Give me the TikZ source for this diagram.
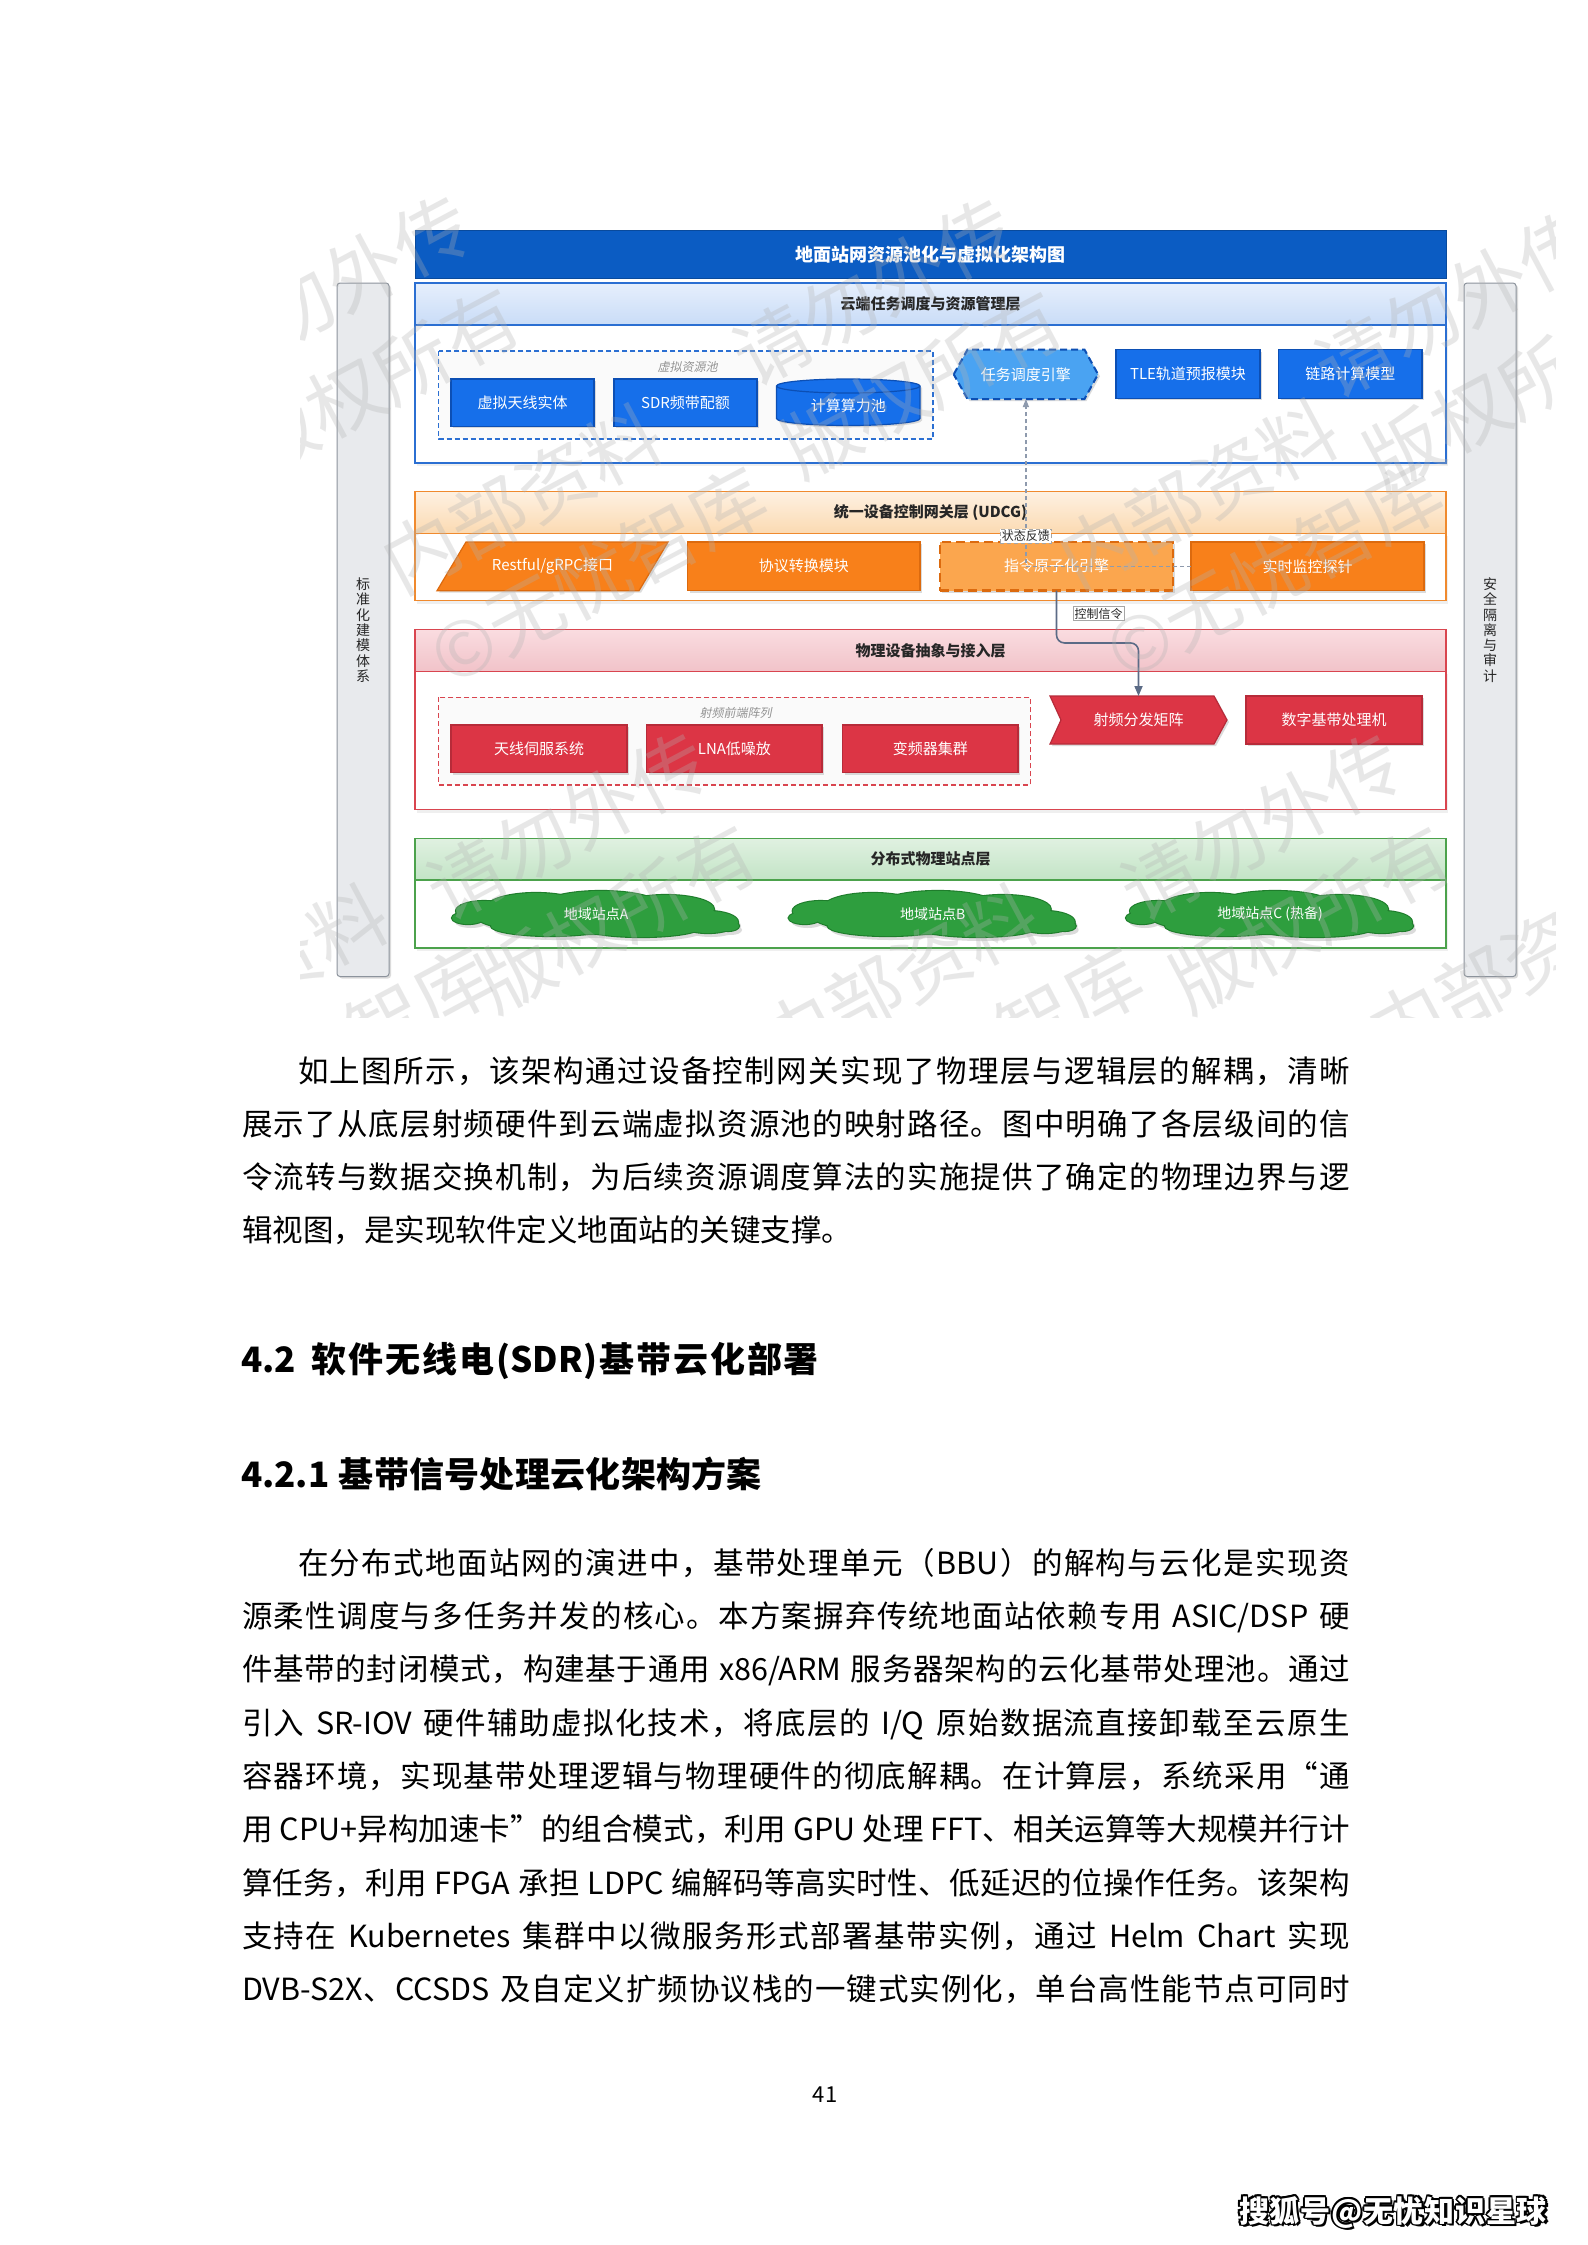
\documentclass[tikz,border=0pt]{standalone}
\usepackage{fontspec}
\setmainfont{Noto Sans CJK SC}
\newfontfamily\cjkit{Noto Sans CJK SC}[FakeSlant=0.2]
\usetikzlibrary{shapes.geometric,shadows,arrows.meta,calc}
\XeTeXinterchartokenstate=1
\newcount\mycc
\def\setclassrange#1#2{\mycc=#1\relax\loop\XeTeXcharclass\mycc=1\relax\advance\mycc by 1\relax\ifnum\mycc<#2\relax\repeat}
\setclassrange{"3000}{"3040}
\setclassrange{"4E00}{"A000}
\setclassrange{"FF00}{"FFF0}
\XeTeXcharclass"201C=1 \XeTeXcharclass"201D=1
\XeTeXinterchartoks 1 1 = {\hskip 0pt plus 1pt\relax}
\XeTeXinterchartoks 0 1 = {\hskip 0pt plus 1pt\relax}
\XeTeXinterchartoks 1 0 = {\hskip 0pt plus 1pt\relax}
\newcommand\fs[1]{\fontsize{#1}{#1}\selectfont}
\definecolor{tblue}{HTML}{0B5CC3}
\definecolor{l1line}{HTML}{2B6FD2}
\definecolor{l1top}{HTML}{E6EFFC}
\definecolor{l1bot}{HTML}{C9DCF7}
\definecolor{bfill}{HTML}{166FEA}
\definecolor{bline}{HTML}{0C4FB4}
\definecolor{hexfill}{HTML}{4AA3F2}
\definecolor{l2line}{HTML}{F08A2E}
\definecolor{l2top}{HTML}{FEF1E2}
\definecolor{l2bot}{HTML}{FBDAB2}
\definecolor{ofill}{HTML}{F8801A}
\definecolor{oline}{HTML}{DC6A0E}
\definecolor{ifill}{HTML}{FBA64E}
\definecolor{l3line}{HTML}{D9454F}
\definecolor{l3top}{HTML}{FADCE0}
\definecolor{l3bot}{HTML}{F1C3C9}
\definecolor{rfill}{HTML}{DC3545}
\definecolor{rline}{HTML}{B72B39}
\definecolor{l4line}{HTML}{4CA24C}
\definecolor{l4top}{HTML}{E0F1E1}
\definecolor{l4bot}{HTML}{C3E4C6}
\definecolor{gfill}{HTML}{2E9E3E}
\definecolor{gline}{HTML}{1F7D2C}
\definecolor{sbfill}{HTML}{E8EAED}
\definecolor{sbline}{HTML}{8C939C}
\definecolor{ctrlc}{HTML}{5B6B86}
\definecolor{fbc}{HTML}{8E9AAD}
\tikzset{
  shad/.style={drop shadow={opacity=0.28,shadow xshift=2pt,shadow yshift=-2pt}},
  wtext/.style={text=white,font=\fs{15}},
  bluebox/.style={shad,fill=bfill,draw=bline,line width=1.2pt,wtext},
  orangebox/.style={shad,fill=ofill,draw=oline,line width=1.2pt,wtext},
  redbox/.style={shad,fill=rfill,draw=rline,line width=1.2pt,wtext},
  sidebar/.style={shad,fill=sbfill,draw=sbline,line width=1pt,rounded corners=3pt},
  sidetext/.style={align=center,font=\fontsize{14}{15.3}\selectfont,text=black!85},
  grplabel/.style={font=\cjkit\fs{12},text=gray!85},
  lbl/.style={fill=white,draw=gray!70,line width=0.6pt,font=\fs{12},inner sep=1.5pt,text=black!85},
  fbline/.style={draw=fbc,line width=1.3pt,dash pattern=on 4pt off 3pt,-{Triangle[length=8pt,width=6pt]}},
  ctrlline/.style={draw=ctrlc,line width=1.6pt,-{Triangle[length=10pt,width=8pt]}},
  wm/.style={rotate=28,align=left,font=\fontsize{76}{104}\selectfont,text=gray!60,text opacity=0.3},
  bodytext/.style={anchor=base west,font=\fs{30.5},text=black}
}
\newcommand\layer[8]{%
  \path[top color=#6,bottom color=#7,draw=#5,line width=1.4pt] (415,#2) rectangle (1446,#3);
  \path[drop shadow={opacity=0.12,shadow xshift=2pt,shadow yshift=-3pt},fill=white,draw=#5,line width=1.4pt] (415,#3) rectangle (1446,#4);
  \node[font=\bfseries\fs{15},text=black!85] (#1) at (930.5,{(#2+#3)/2}) {#8};}
\newcommand\cloudparts{0/4/118/16, -60/-6/50/15, 5/-9/58/14, 70/-5/48/14, -112/-3/28/10, -128/4/16/6, 112/8/30/11, 132/12/11/5, -45/12/60/10, 45/13/60/10}
\newcommand\sitecloud[4]{%
  \begin{scope}[shift={(#2,#3)}]
    \begin{scope}[shift={(3,4)}]
      \foreach \ex/\ey/\rx/\ry in \cloudparts \fill[black!14] (\ex,\ey) ellipse [x radius=\rx, y radius=\ry];
    \end{scope}
    \foreach \ex/\ey/\rx/\ry in \cloudparts \draw[gline,line width=2.2pt] (\ex,\ey) ellipse [x radius=\rx, y radius=\ry];
    \foreach \ex/\ey/\rx/\ry in \cloudparts \fill[gfill] (\ex,\ey) ellipse [x radius=\rx, y radius=\ry];
  \end{scope}
  \node[text=white,font=\fs{14}] (#1) at (#2,#3) {#4};}
\newcommand\jl[5]{\node[bodytext] (#1) at (#2,#3) {\makebox[#4pt][s]{#5}};}
\begin{document}
\begin{tikzpicture}[x=1pt,y=-1pt,every node/.style={inner sep=0pt,outer sep=0pt}]
\useasboundingbox (0,0) rectangle (1587,2245);
\fill[white] (0,0) rectangle (1587,2245);

% side bars
\path[sidebar] (337,283) rectangle (389,976.5);
\node[sidetext] (stdtxt) at (363,630) {标\\准\\化\\建\\模\\体\\系};
\path[sidebar] (1464,283) rectangle (1516,976.5);
\node[sidetext] (sectxt) at (1490,630) {安\\全\\隔\\离\\与\\审\\计};

% title
\node[fill=tblue,draw=tblue!80!black,line width=1pt,minimum width=1031pt,minimum height=47.5pt,text=white,font=\bfseries\fs{18}] (title) at (930.5,254.5) {地面站网资源池化与虚拟化架构图};

% layers
\layer{l1}{283}{325}{463}{l1line}{l1top}{l1bot}{云端任务调度与资源管理层}
\layer{l2}{491.5}{533.3}{600.5}{l2line}{l2top}{l2bot}{统一设备控制网关层 (UDCG)}
\layer{l3}{629.7}{671.4}{809.6}{l3line}{l3top}{l3bot}{物理设备抽象与接入层}
\layer{l4}{838.3}{880}{947.8}{l4line}{l4top}{l4bot}{分布式物理站点层}

% layer 1 content
\path[draw=l1line,dash pattern=on 5pt off 3pt,line width=1.3pt,fill=gray!4] (438.6,351) rectangle (933,439);
\node[grplabel] (vpoollbl) at (687.6,367) {虚拟资源池};
\node[bluebox,minimum width=143pt,minimum height=47.5pt] (vant) at (522.5,402.7) {虚拟天线实体};
\node[bluebox,minimum width=143pt,minimum height=47.5pt] (sdr) at (685.5,402.7) {SDR频带配额};
\path[shad,fill=bfill,draw=bline,line width=1.2pt] (776.5,386) -- (776.5,418.5) arc[start angle=180,end angle=0,x radius=71.75,y radius=7] -- (920,386) arc[start angle=0,end angle=-180,x radius=71.75,y radius=7] -- cycle;
\draw[bline,line width=1.2pt] (776.5,386) arc[start angle=180,end angle=0,x radius=71.75,y radius=7];
\node[wtext] (pool) at (848.25,406) {计算算力池};
\path[shad,fill=hexfill,draw=bline,line width=2pt,dash pattern=on 7pt off 4pt] (953.7,374.3) -- (967.5,349.6) -- (1084.5,349.6) -- (1098,374.3) -- (1084.5,399) -- (967.5,399) -- cycle;
\node[wtext,minimum width=144pt,minimum height=49.4pt] (sched) at (1025.9,374.3) {任务调度引擎};
\node[bluebox,minimum width=144pt,minimum height=48.5pt] (tle) at (1188,374) {TLE轨道预报模块};
\node[bluebox,minimum width=143.4pt,minimum height=48.5pt] (link) at (1350.3,374) {链路计算模型};

% layer 2 content
\path[shad,fill=ofill,draw=oline,line width=1.2pt] (437,590.7) -- (466,542) -- (668,542) -- (639,590.7) -- cycle;
\node[wtext] (rest) at (552.5,566.3) {Restful/gRPC接口};
\node[orangebox,minimum width=232.4pt,minimum height=48.7pt] (proto) at (803.8,566.3) {协议转换模块};
\node[shad,fill=ifill,draw=oline,line width=2.5pt,dash pattern=on 9pt off 5pt,wtext,minimum width=233pt,minimum height=48.7pt] (instr) at (1056.5,566.3) {指令原子化引擎};
\node[orangebox,minimum width=233pt,minimum height=48.7pt] (monitor) at (1307.5,566.3) {实时监控探针};

% layer 3 content
\path[draw=l3line,dash pattern=on 5pt off 3pt,line width=1.3pt,fill=gray!4] (438.6,697.4) rectangle (1030.4,785);
\node[grplabel] (rflbl) at (735.7,713) {射频前端阵列};
\node[redbox,minimum width=176pt,minimum height=47.8pt] (ant) at (539,748.9) {天线伺服系统};
\node[redbox,minimum width=175.3pt,minimum height=47.8pt] (lna) at (734.4,748.9) {LNA低噪放};
\node[redbox,minimum width=175.3pt,minimum height=47.8pt] (conv) at (930.4,748.9) {变频器集群};
\path[shad,fill=rfill,draw=rline,line width=1.2pt] (1050,696) -- (1214,696) -- (1227,720) -- (1214,744) -- (1050,744) -- (1061,720) -- cycle;
\node[wtext,minimum width=177pt,minimum height=48pt] (rfm) at (1138.5,720) {射频分发矩阵};
\node[redbox,minimum width=176pt,minimum height=48pt] (dbb) at (1334,720) {数字基带处理机};

% layer 4 content
\sitecloud{siteA}{596}{914}{地域站点A}
\sitecloud{siteB}{932.7}{914}{地域站点B}
\sitecloud{siteC}{1270}{914}{地域站点C (热备)}

% connectors
\draw[fbline] (monitor.west) -| (sched.south) node[lbl,pos=0.59] (lblfb) {状态反馈};
\draw[ctrlline,rounded corners=8pt] (instr.south) -- ++(0,52.3) -| (rfm.north);
\node[lbl] (lblctrl) at (1098.5,613.5) {控制信令};

% watermark
\begin{scope}
\clip (300,186) rectangle (1555,1017);
\foreach \x/\y/\a/\b [count=\i] in {355/335/请勿外传/版权所有,898/338/请勿外传/版权所有,1480/350/请勿外传/版权所有,592/872/请勿外传/版权所有,1286/873/请勿外传/版权所有,574/530/内部资料/©无忧智库,1250/525/内部资料/©无忧智库,300/1010/内部资料/©无忧智库,950/1010/内部资料/©无忧智库,1560/1000/内部资料/©无忧智库}
  \node[wm] (wm\i) at (\x,\y) {\a\\\b};
\end{scope}

% body text
\jl{p1a}{298}{1082.9}{1052}{如上图所示，该架构通过设备控制网关实现了物理层与逻辑层的解耦，清晰}
\jl{p1b}{242}{1135.9}{1108}{展示了从底层射频硬件到云端虚拟资源池的映射路径。图中明确了各层级间的信}
\jl{p1c}{242}{1188.9}{1108}{令流转与数据交换机制，为后续资源调度算法的实施提供了确定的物理边界与逻}
\node[bodytext] (p1d) at (242,1241.9) {辑视图，是实现软件定义地面站的关键支撑。};

\node[anchor=base west,font=\bfseries\fs{35}] (h42) at (241,1372) {\makebox[578pt][s]{4.2\ 软件无线电(SDR)基带云化部署}};
\node[anchor=base west,font=\bfseries\fs{35}] (h421) at (241,1487) {\makebox[521pt][s]{4.2.1\ 基带信号处理云化架构方案}};

\jl{p2a}{298}{1574.2}{1052}{在分布式地面站网的演进中，基带处理单元（BBU）的解构与云化是实现资}
\jl{p2b}{242}{1627.5}{1108}{源柔性调度与多任务并发的核心。本方案摒弃传统地面站依赖专用 ASIC/DSP 硬}
\jl{p2c}{242}{1680.8}{1108}{件基带的封闭模式，构建基于通用 x86/ARM 服务器架构的云化基带处理池。通过}
\jl{p2d}{242}{1734.1}{1108}{引入 SR-IOV 硬件辅助虚拟化技术，将底层的 I/Q 原始数据流直接卸载至云原生}
\jl{p2e}{242}{1787.4}{1108}{容器环境，实现基带处理逻辑与物理硬件的彻底解耦。在计算层，系统采用“通}
\jl{p2f}{242}{1840.7}{1108}{用 CPU+异构加速卡”的组合模式，利用 GPU 处理 FFT、相关运算等大规模并行计}
\jl{p2g}{242}{1894}{1108}{算任务，利用 FPGA 承担 LDPC 编解码等高实时性、低延迟的位操作任务。该架构}
\jl{p2h}{242}{1947.3}{1108}{支持在 Kubernetes 集群中以微服务形式部署基带实例，通过 Helm Chart 实现}
\jl{p2i}{242}{2000.6}{1108}{DVB-S2X、CCSDS 及自定义扩频协议栈的一键式实例化，单台高性能节点可同时}

% page number
\node[font=\fs{22}] (pagenum) at (825,2095) {41};

% footer mark
\foreach \dx/\dy [count=\i] in {-1.6/0,1.6/0,0/-1.6,0/1.6,-1.2/-1.2,1.2/1.2,-1.2/1.2,1.2/-1.2,2.2/2.2}
  \node[anchor=west,font=\bfseries\fs{30},text=black] (fo\i) at ({1239+\dx},{2212+\dy}) {\makebox[308pt][s]{搜狐号@无忧知识星球}};
\node[anchor=west,font=\bfseries\fs{30},text=white] (footer) at (1239,2212) {\makebox[308pt][s]{搜狐号@无忧知识星球}};
\end{tikzpicture}
\end{document}
